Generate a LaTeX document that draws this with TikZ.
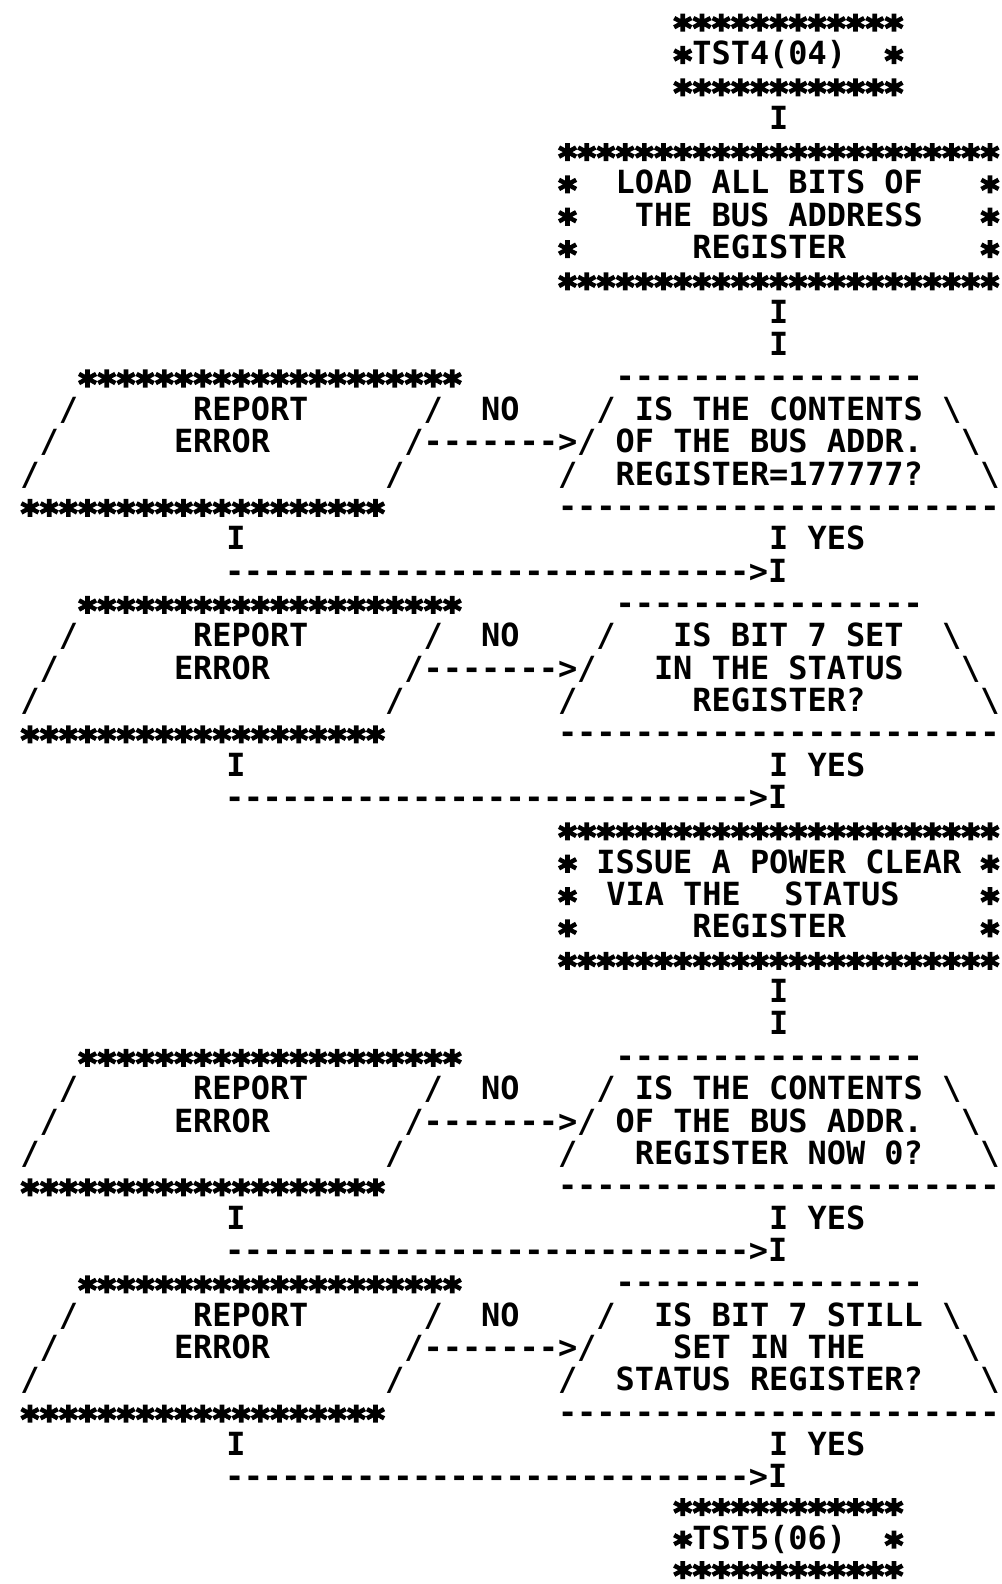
\documentclass[tikz,border=0pt]{standalone}
\usepackage{fontspec}
\setmonofont{DejaVu Sans Mono}
\newfontfamily\starfont{DejaVu Sans Mono}[FakeBold=5]
\newcount\rc
\newcommand\onestar{\makebox[9.6pt]{\raisebox{-4.2pt}{\starfont\bfseries\fontsize{17.5pt}{17.5pt}\selectfont *}}}
\newcommand\stars[1]{\rc=#1\relax\loop\ifnum\rc>0 \onestar\advance\rc by -1\relax\repeat}
\newcommand\dashes[1]{\rc=#1\relax\loop\ifnum\rc>0 -\advance\rc by -1\relax\repeat}
\newcommand\dashesw[1]{\rc=#1\relax\loop\ifnum\rc>0 \makebox[9.35pt]{-}\advance\rc by -1\relax\repeat}
\newcommand\rowat[1]{\def\rN{#1}\def\rY{(20.5+32.35*#1)}}
\newcommand\rowy[2]{\def\rN{#1}\def\rY{#2}}
\newcommand\seg[2]{\node[txt] (r\rN c#1) at ({19.2*#1+20.4},{\rY+11.6}) {#2};}
\newcommand\segx[3]{\node[txt] (#1) at ({#2-9.6},{\rY+11.6}) {#3};}
\newcommand\bs{\textbackslash}
\tikzset{txt/.style={inner sep=0pt, outer sep=0pt, anchor=base west,
  text height=11.7pt, text depth=0pt,
  font=\frenchspacing\ttfamily\bfseries\fontsize{15.95pt}{16pt}\selectfont}}
\begin{document}
\begin{tikzpicture}[x=0.5pt,y=-0.5pt]
\fill[white] (0,0) rectangle (1001,1584);
\useasboundingbox (0,0) rectangle (1001,1584);
% start box
\rowat{0} \seg{34}{\stars{12}}
\rowat{1} \seg{34}{\stars{1}TST4(04)} \seg{45}{\stars{1}}
\rowat{2} \seg{34}{\stars{12}}
\rowat{3} \seg{39}{I}
% process box 1
\rowat{4} \seg{28}{\stars{23}}
\rowat{5} \seg{28}{\stars{1}} \seg{31}{LOAD ALL BITS OF} \seg{50}{\stars{1}}
\rowat{6} \seg{28}{\stars{1}} \seg{32}{THE BUS ADDRESS} \seg{50}{\stars{1}}
\rowat{7} \seg{28}{\stars{1}} \seg{35}{REGISTER} \seg{50}{\stars{1}}
\rowat{8} \seg{28}{\stars{23}}
\rowat{9} \seg{39}{I}
\rowat{10} \seg{39}{I}
% decision 1
\rowat{11} \seg{3}{\stars{20}} \seg{31}{\dashes{16}}
\rowat{12} \seg{2}{/} \seg{9}{REPORT} \seg{21}{/} \seg{24}{NO} \seg{30}{/ IS THE CONTENTS} \seg{48}{\bs}
\rowat{13} \seg{1}{/} \seg{8}{ERROR} \seg{20}{/\dashes{7}>/ OF THE BUS ADDR.} \seg{49}{\bs}
\rowat{14} \seg{0}{/} \seg{19}{/} \seg{28}{/} \seg{31}{REGISTER=177777?} \seg{50}{\bs}
\rowat{15} \seg{0}{\stars{19}} \seg{28}{\dashes{23}}
\rowat{16} \segx{r16c10}{236}{I} \seg{39}{I YES}
\rowat{17} \segx{r17c10}{235}{\dashesw{28}>I}
% decision 2
\rowat{18} \seg{3}{\stars{20}} \seg{31}{\dashes{16}}
\rowat{19} \seg{2}{/} \seg{9}{REPORT} \seg{21}{/} \seg{24}{NO} \seg{30}{/} \seg{34}{IS BIT 7 SET} \seg{48}{\bs}
\rowat{20} \seg{1}{/} \seg{8}{ERROR} \seg{20}{/\dashes{7}>/} \seg{33}{IN THE STATUS} \seg{49}{\bs}
\rowat{21} \seg{0}{/} \seg{19}{/} \seg{28}{/} \seg{35}{REGISTER?} \seg{50}{\bs}
\rowat{22} \seg{0}{\stars{19}} \seg{28}{\dashes{23}}
\rowat{23} \segx{r23c10}{236}{I} \seg{39}{I YES}
\rowat{24} \segx{r24c10}{235}{\dashesw{28}>I}
% process box 2
\rowat{25} \seg{28}{\stars{23}}
\rowat{26} \seg{28}{\stars{1}} \seg{30}{ISSUE A POWER CLEAR} \seg{50}{\stars{1}}
\rowat{27} \seg{28}{\stars{1}} \segx{r27c31}{616}{VIA THE} \segx{r27c39}{794}{STATUS} \seg{50}{\stars{1}}
\rowat{28} \seg{28}{\stars{1}} \seg{35}{REGISTER} \seg{50}{\stars{1}}
\rowat{29} \seg{28}{\stars{23}}
\rowat{30} \seg{39}{I}
\rowat{31} \seg{39}{I}
% decision 3
\rowat{32} \seg{3}{\stars{20}} \seg{31}{\dashes{16}}
\rowat{33} \seg{2}{/} \seg{9}{REPORT} \seg{21}{/} \seg{24}{NO} \seg{30}{/ IS THE CONTENTS} \seg{48}{\bs}
\rowat{34} \seg{1}{/} \seg{8}{ERROR} \seg{20}{/\dashes{7}>/ OF THE BUS ADDR.} \seg{49}{\bs}
\rowat{35} \seg{0}{/} \seg{19}{/} \seg{28}{/} \seg{32}{REGISTER NOW 0?} \seg{50}{\bs}
\rowat{36} \seg{0}{\stars{19}} \seg{28}{\dashes{23}}
\rowat{37} \segx{r37c10}{236}{I} \seg{39}{I YES}
\rowat{38} \segx{r38c10}{235}{\dashesw{28}>I}
% decision 4
\rowat{39} \seg{3}{\stars{20}} \seg{31}{\dashes{16}}
\rowat{40} \seg{2}{/} \seg{9}{REPORT} \seg{21}{/} \seg{24}{NO} \seg{30}{/} \seg{33}{IS BIT 7 STILL} \seg{48}{\bs}
\rowat{41} \seg{1}{/} \seg{8}{ERROR} \seg{20}{/\dashes{7}>/} \seg{34}{SET IN THE} \seg{49}{\bs}
\rowat{42} \seg{0}{/} \seg{19}{/} \seg{28}{/} \seg{31}{STATUS REGISTER?} \seg{50}{\bs}
\rowat{43} \seg{0}{\stars{19}} \seg{28}{\dashes{23}}
\rowat{44} \segx{r44c10}{236}{I} \seg{39}{I YES}
\rowat{45} \segx{r45c10}{235}{\dashesw{28}>I}
% end box
\rowy{46}{1505} \seg{34}{\stars{12}}
\rowy{47}{1537.5} \seg{34}{\stars{1}TST5(06)} \seg{45}{\stars{1}}
\rowy{48}{1568} \seg{34}{\stars{12}}
\end{tikzpicture}
\end{document}
